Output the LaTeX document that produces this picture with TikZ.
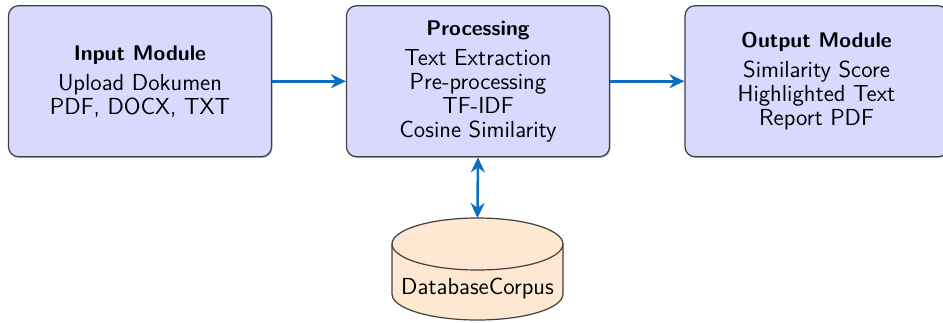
\documentclass[tikz,border=0pt]{standalone}
\usetikzlibrary{arrows.meta,shadows}
\definecolor{flowblue}{RGB}{12,110,190}
\definecolor{modfill}{RGB}{217,217,255}
\definecolor{dbfill}{RGB}{254,232,210}
\newcommand{\modtitle}[1]{{\fontsize{10.6}{12}\selectfont\bfseries #1}}
\tikzset{
  module/.style={draw=black!75, line width=0.6pt, fill=modfill, rounded corners=5pt,
    minimum width=131.5pt, minimum height=75.5pt, inner sep=0pt, align=center,
    font=\sffamily\fontsize{11.6}{12}\selectfont,
    drop shadow={shadow xshift=0.5pt, shadow yshift=-0.6pt, opacity=0.35, fill=black!70}},
  flow/.style={draw=flowblue, line width=1.3pt, -{Stealth[length=7.5pt,width=7pt]}},
  flowboth/.style={flow, {Stealth[length=7.5pt,width=7pt]}-{Stealth[length=7.5pt,width=7pt]}},
  dbtext/.style={font=\sffamily\fontsize{11.6}{12}\selectfont, inner sep=0pt}
}
\begin{document}
\begin{tikzpicture}[x=0.5pt,y=-0.5pt]
  \useasboundingbox (0,0) rectangle (943,322);
  \begin{scope}
    \clip (0,0) rectangle (943,322);

    % three processing stages
    \node[module] (input) at (140,81.25)
      {\modtitle{Input Module}\\[3pt]Upload Dokumen\\PDF, DOCX, TXT};
    \node[module] (proc) at (478,81.25)
      {\modtitle{Processing}\\[3pt]Text Extraction\\Pre-processing\\TF-IDF\\Cosine Similarity};
    \node[module] (output) at (816.5,81.25)
      {\modtitle{Output Module}\\[3pt]Similarity Score\\Highlighted Text\\Report PDF};

    % corpus database drawn as a cylinder
    \filldraw[draw=black!75, line width=0.6pt, fill=dbfill]
      (392,244) -- (392,294)
      arc[start angle=180, end angle=360, x radius=42.75pt, y radius=13pt]
      -- (563,244)
      arc[start angle=0, end angle=180, x radius=42.75pt, y radius=13pt] -- cycle;
    \draw[black!75, line width=0.6pt] (392,244)
      arc[start angle=180, end angle=360, x radius=42.75pt, y radius=13pt];
    \coordinate (dbtop) at (477.5,218);
    \node[dbtext] (db) at (477.5,289) {DatabaseCorpus};

    % data flow
    \draw[flow] (input) -- (proc);
    \draw[flow] (proc) -- (output);
    \draw[flowboth] (proc.south) -- (dbtop);
  \end{scope}
\end{tikzpicture}
\end{document}
